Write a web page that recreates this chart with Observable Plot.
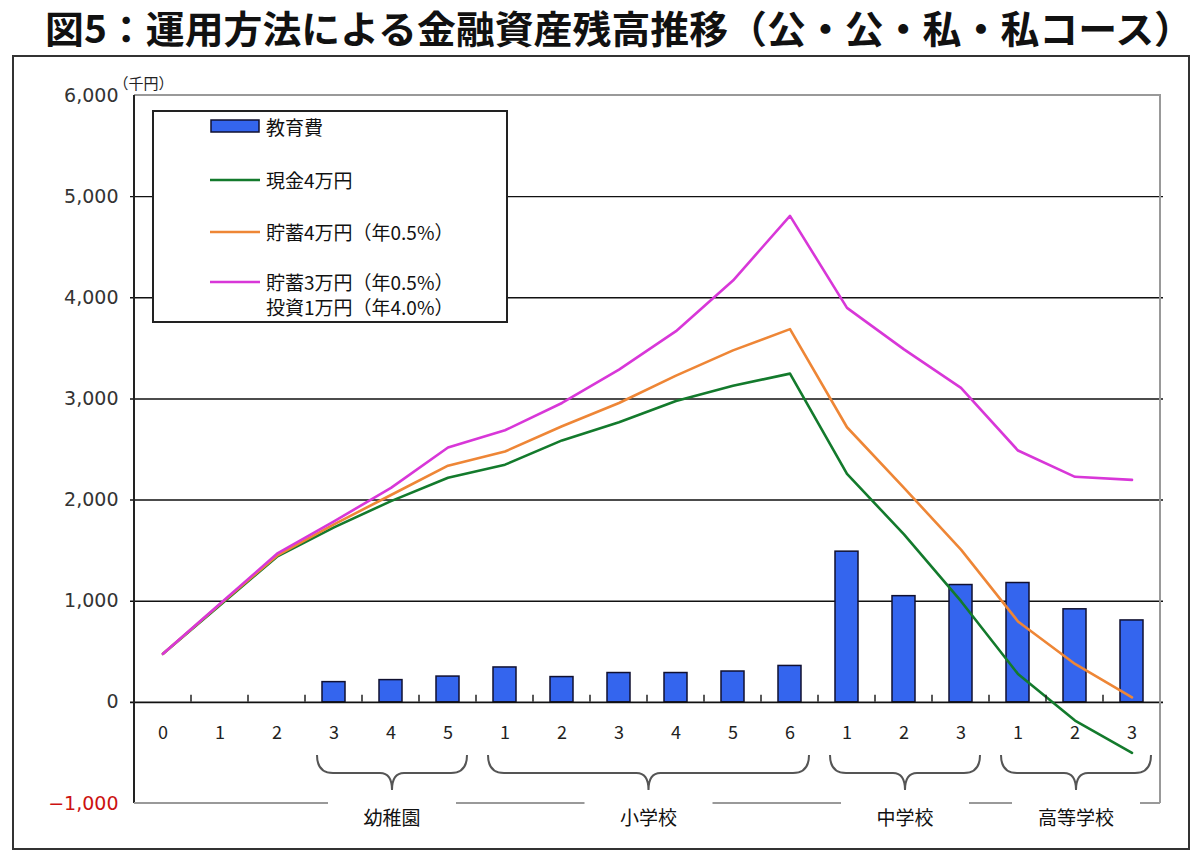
<!DOCTYPE html>
<html>
<head>
<meta charset="utf-8">
<script src="https://cdn.jsdelivr.net/npm/d3@7"></script>
<script src="https://cdn.jsdelivr.net/npm/@observablehq/plot@0.6"></script>
<style>
  body { margin: 0; background: #fff; font-family: "Noto Sans CJK JP", "Noto Sans", sans-serif; }
  #page { position: relative; width: 1200px; height: 858px; overflow: hidden; }
  #title { position: absolute; left: 0; top: 0; }
  #chart { position: absolute; left: 0; top: 55px; }
  #frame { position: absolute; left: 12px; top: 55px; width: 1174px; height: 791px; border: 2px solid #333; pointer-events: none; }
  #legend { position: absolute; left: 152px; top: 110px; width: 352px; height: 209px; border: 2px solid #222; background: #fff; color: #111; font-size: 19px; }
  .row { position: absolute; left: 56px; display: flex; align-items: center; height: 28px; }
  .row svg { margin-right: 4px; }
  .row span { line-height: 25px; white-space: nowrap; }
</style>
</head>
<body>
<div id="page">
  <svg id="title" width="1200" height="55"></svg>
  <div id="chart"></div>
  <div id="frame"></div>
  <div id="legend"></div>
</div>
<script>
// 年齢・学年（横軸のカテゴリ）
const categories = ["0歳", "1歳", "2歳", "3歳", "4歳", "5歳",
  "小1", "小2", "小3", "小4", "小5", "小6", "中1", "中2", "中3", "高1", "高2", "高3"];
const tickLabels = ["0", "1", "2", "3", "4", "5", "1", "2", "3", "4", "5", "6", "1", "2", "3", "1", "2", "3"];

// 学校区分
const groupNames = ["幼稚園", "小学校", "中学校", "高等学校"];
const groupFirst = ["3歳", "小1", "中1", "高1"];
const groupLast = ["5歳", "小6", "中3", "高3"];

// 教育費（千円／年）
const eduCost = [0, 0, 0, 200, 220, 255, 345, 250, 290, 290, 305, 360, 1490, 1050, 1160, 1180, 920, 810];
// 金融資産残高（千円）
const cash = [480, 960, 1440, 1730, 1990, 2220, 2350, 2590, 2770, 2980, 3130, 3250, 2260, 1660, 1000, 280, -180, -500];
const savings = [480, 970, 1450, 1760, 2050, 2340, 2480, 2730, 2960, 3230, 3480, 3690, 2720, 2120, 1510, 800, 380, 50];
const mixed = [480, 975, 1470, 1790, 2120, 2520, 2690, 2960, 3290, 3670, 4170, 4810, 3900, 3490, 3110, 2490, 2230, 2200];

const yTicks = [-1000, 0, 1000, 2000, 3000, 4000, 5000, 6000];
const gridValues = [1000, 2000, 3000, 4000, 5000];

const barLabel = "教育費";
const seriesLabels = [["現金4万円"], ["貯蓄4万円（年0.5%）"], ["貯蓄3万円（年0.5%）", "投資1万円（年4.0%）"]];
const seriesColors = ["#137a2c", "#ee8636", "#d837d8"];
const barFill = "#3465ee";
const barStroke = "#101030";

const titleText = "図5：運用方法による金融資産残高推移（公・公・私・私コース）";

const FONT = '"Noto Sans CJK JP", "Noto Sans", sans-serif';

// タイトル
d3.select("#title").append("text")
  .attr("x", 45).attr("y", 43)
  .attr("textLength", 1148).attr("lengthAdjust", "spacingAndGlyphs")
  .attr("font-family", FONT).attr("font-size", 38).attr("font-weight", 700)
  .attr("fill", "#111")
  .text(titleText);

const rows = categories.map((key, i) => ({
  key, label: tickLabels[i], cost: eduCost[i], cash: cash[i], savings: savings[i], mixed: mixed[i]
}));
const seriesKeys = ["cash", "savings", "mixed"];

// 波かっこ・区分名・軸枠など（スケールから位置を求めて描く）
function decorations(index, scales, values, dimensions) {
  const x = scales.x, y = scales.y;
  const step = x(categories[1]) - x(categories[0]);
  const left = x(categories[0]);
  const right = x(categories[categories.length - 1]) + step;
  const top = y(6000), bottom = y(-1000), zero = y(0);
  const g = d3.create("svg:g");

  // 上・右の枠（灰色）
  g.append("path").attr("d", `M${left},${top}H${right}V${bottom}`)
    .attr("fill", "none").attr("stroke", "#999").attr("stroke-width", 2);
  // 縦軸
  g.append("line").attr("x1", left).attr("x2", left).attr("y1", top).attr("y2", bottom)
    .attr("stroke", "#222").attr("stroke-width", 2);
  // 0 の線上の目盛り（カテゴリの境目）
  for (let i = 1; i < categories.length; i++) {
    const bx = x(categories[i]);
    g.append("line").attr("x1", bx).attr("x2", bx).attr("y1", zero).attr("y2", zero - 7)
      .attr("stroke", "#222").attr("stroke-width", 1.5);
  }

  // 波かっこと区分名
  const gaps = [];
  groupNames.forEach((name, i) => {
    const l = x(groupFirst[i]) + 12;
    const r = x(groupLast[i]) + step - 9;
    const cx = (l + r) / 2;
    const yt = bottom - 48, ym = bottom - 30, yp = bottom - 13;
    g.append("path")
      .attr("d", `M${l},${yt}Q${l},${ym} ${l + 16},${ym}L${cx - 12},${ym}Q${cx},${ym} ${cx},${yp}` +
                 `Q${cx},${ym} ${cx + 12},${ym}L${r - 16},${ym}Q${r},${ym} ${r},${yt}`)
      .attr("fill", "none").attr("stroke", "#555").attr("stroke-width", 2);
    g.append("text").attr("x", cx).attr("y", bottom + 13)
      .attr("text-anchor", "middle").attr("dominant-baseline", "central")
      .attr("font-size", 19).attr("fill", "#111").text(name);
    gaps.push([cx - 64, cx + 64]);
  });

  // 下端の線（区分名の部分は切れている）
  let start = left;
  const segs = [];
  gaps.forEach(([a, b]) => { segs.push([start, a]); start = b; });
  segs.push([start, right]);
  segs.forEach(([a, b]) => {
    if (b > a) g.append("line").attr("x1", a).attr("x2", b).attr("y1", bottom).attr("y2", bottom)
      .attr("stroke", "#999").attr("stroke-width", 2);
  });
  return g.node();
}

const chart = Plot.plot({
  width: 1200,
  height: 803,
  marginTop: 40,
  marginLeft: 130,
  marginRight: 37,
  marginBottom: 55,
  x: { type: "band", domain: categories, padding: 0, axis: null },
  y: { domain: [-1000, 6000], axis: null },
  style: { fontFamily: FONT, background: "transparent", overflow: "visible" },
  marks: [
    Plot.ruleY(gridValues, { stroke: "#111", strokeWidth: 1.4 }),
    Plot.barY(rows.filter(d => d.cost > 0), {
      x: "key", y: "cost", fill: barFill, stroke: barStroke, strokeWidth: 1.5,
      insetLeft: 17, insetRight: 17
    }),
    Plot.ruleY([0], { stroke: "#111", strokeWidth: 1.6 }),
    ...seriesKeys.map((k, i) => Plot.lineY(rows, {
      x: "key", y: k, stroke: seriesColors[i], strokeWidth: 2.6, strokeLinejoin: "round"
    })),
    // 横軸の目盛りラベル
    Plot.text(rows, { x: "key", y: 0, text: "label", dy: 31, fontSize: 18, fill: "#222" }),
    // 縦軸の目盛りラベル
    Plot.text(yTicks.filter(d => d >= 0), {
      y: d => d, text: d => d3.format(",")(d), frameAnchor: "left", dx: -12,
      textAnchor: "end", fontSize: 19, fill: "#333", fontFamily: "DejaVu Sans", letterSpacing: 0.8
    }),
    Plot.text(yTicks.filter(d => d < 0), {
      y: d => d, text: d => d3.format(",")(d), frameAnchor: "left", dx: -12,
      textAnchor: "end", fontSize: 19, fill: "#cc1111", fontFamily: "DejaVu Sans", letterSpacing: 0.8
    }),
    Plot.text(["（千円）"], { frameAnchor: "top-left", text: d => d, dx: -17, dy: -17,
      textAnchor: "start", fontSize: 15, fill: "#222" }),
    decorations
  ]
});
document.getElementById("chart").appendChild(chart);

// 凡例
const legend = d3.select("#legend");
const rowCenters = [14, 68, 120, 170];
const barRow = legend.append("div").attr("class", "row").style("top", (rowCenters[0] - 14) + "px");
barRow.append("svg").attr("width", 52).attr("height", 16)
  .append("rect").attr("x", 1).attr("y", 2).attr("width", 48).attr("height", 12)
  .attr("fill", barFill).attr("stroke", barStroke).attr("stroke-width", 1.5);
barRow.append("span").text(barLabel);
seriesLabels.forEach((lines, i) => {
  const r = legend.append("div").attr("class", "row").style("top", (rowCenters[i + 1] - 14) + "px")
    .style("align-items", "flex-start");
  r.append("svg").attr("width", 52).attr("height", 28)
    .append("line").attr("x1", 0).attr("x2", 50).attr("y1", 14).attr("y2", 14)
    .attr("stroke", seriesColors[i]).attr("stroke-width", 2.6);
  const s = r.append("span").style("margin-top", "1px");
  lines.forEach((t, j) => { if (j) s.append("br"); s.append("tspan").text(t); });
});
</script>
</body>
</html>
